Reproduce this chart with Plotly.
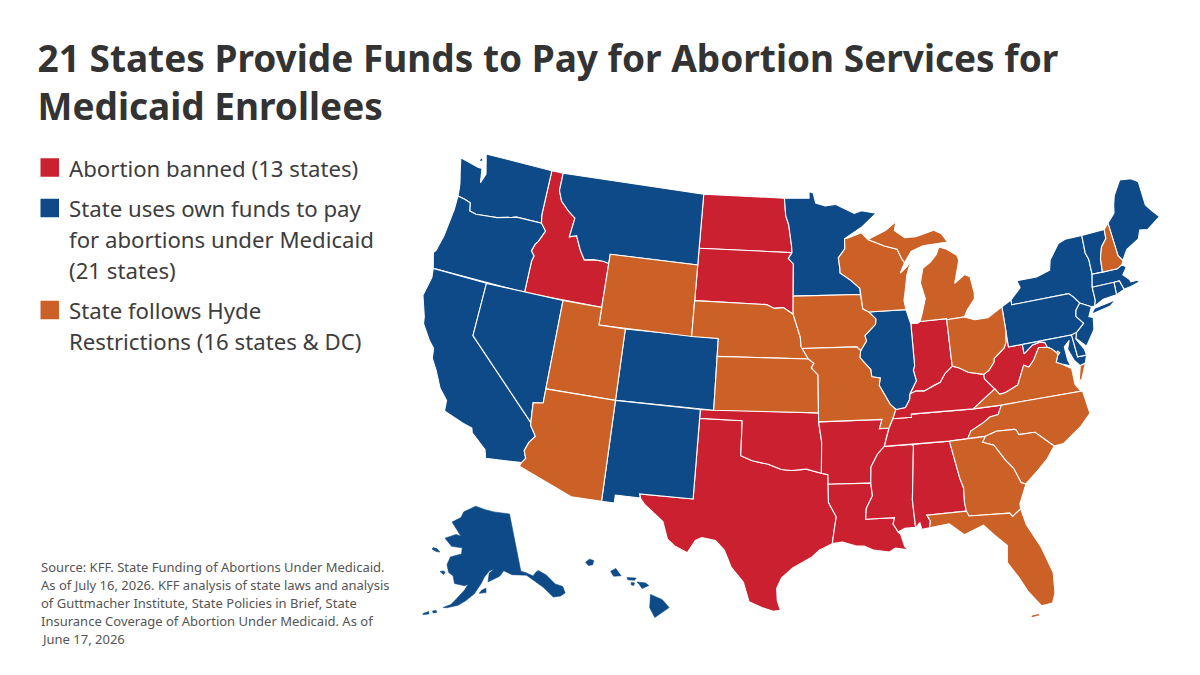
import math
import plotly.graph_objects as go

TITLE = "<b>21 States Provide Funds to Pay for Abortion Services for<br>Medicaid Enrollees</b>"
banned = ["ID","ND","SD","TX","OK","AR","LA","MS","AL","TN","KY","WV","IN"]
own_funds = ["WA","OR","CA","NV","MT","CO","NM","MN","IL","NY","VT","ME","MA","RI","CT","NJ","PA","MD","DE","AK","HI"]
hyde = ["WY","UT","AZ","NE","KS","IA","MO","WI","MI","OH","VA","NC","SC","GA","FL","NH","DC"]
legend_labels = [["Abortion banned (13 states)"],
                 ["State uses own funds to pay", "for abortions under Medicaid", "(21 states)"],
                 ["State follows Hyde", "Restrictions (16 states &amp; DC)"]]
source_note = ["Source: KFF. State Funding of Abortions Under Medicaid.",
               "As of July 16, 2026. KFF analysis of state laws and analysis",
               "of Guttmacher Institute, State Policies in Brief, State",
               "Insurance Coverage of Abortion Under Medicaid. As of",
               "June 17, 2026"]
RED, BLUE, ORANGE = "#cb2030", "#0e4a87", "#cb6127"

# State outlines, (longitude, latitude); a state may have several rings.
outlines = {
"WA": [[(-124.7,48.38),(-123.1,48.15),(-122.75,48.15),(-122.55,47.35),(-122.3,47.9),(-122.75,49),(-117.03,49),(-117.04,46.42),(-116.92,45.99),(-118.98,46),(-119.3,45.93),(-120.5,45.7),(-121.2,45.65),(-122.2,45.57),(-122.75,45.65),(-122.9,46.1),(-123.4,46.2),(-124,46.27),(-124.07,46.7),(-124.15,47),(-124.4,47.6)],
       [(-123.15,48.5),(-122.85,48.55),(-122.95,48.72),(-123.1,48.68)]],
"OR": [[(-124,46.27),(-123.97,45.5),(-124.07,44.6),(-124.15,43.9),(-124.4,43),(-124.55,42.84),(-124.2,42),(-117.03,42),(-117.03,43.8),(-116.93,44.1),(-117.22,44.35),(-117.05,44.75),(-116.85,44.95),(-116.47,45.6),(-116.92,45.99),(-118.98,46),(-119.3,45.93),(-120.5,45.7),(-121.2,45.65),(-122.2,45.57),(-122.75,45.65),(-122.9,46.1),(-123.4,46.2)]],
"CA": [[(-124.2,42),(-124.1,41.5),(-124.35,40.4),(-123.8,39.3),(-123.7,38.9),(-122.95,38.1),(-122.5,37.75),(-122.4,37.2),(-121.9,36.6),(-121.3,35.7),(-120.65,35.15),(-120.6,34.55),(-119.2,34.15),(-118.5,34),(-118.4,33.75),(-117.3,33),(-117.13,32.53),(-114.72,32.72),(-114.5,33),(-114.7,33.4),(-114.5,33.9),(-114.14,34.3),(-114.6,34.85),(-114.63,35),(-120,39),(-120,42)]],
"NV": [[(-120,42),(-114.04,42),(-114.05,37),(-114.05,36.2),(-114.74,36.1),(-114.63,35),(-120,39)]],
"ID": [[(-117.03,49),(-116.05,49),(-116.05,48),(-115.7,47.45),(-114.95,46.95),(-114.35,46.65),(-114.5,45.56),(-113.95,45.7),(-113.45,44.95),(-113,44.45),(-112.3,44.55),(-111.5,44.55),(-111.05,44.48),(-111.05,42),(-117.03,42),(-117.03,43.8),(-116.93,44.1),(-117.22,44.35),(-117.05,44.75),(-116.85,44.95),(-116.47,45.6),(-116.92,45.99),(-117.04,46.42)]],
"MT": [[(-116.05,49),(-104.05,49),(-104.05,45),(-111.05,45),(-111.05,44.48),(-111.5,44.55),(-112.3,44.55),(-113,44.45),(-113.45,44.95),(-113.95,45.7),(-114.5,45.56),(-114.35,46.65),(-114.95,46.95),(-115.7,47.45),(-116.05,48)]],
"WY": [[(-111.05,45),(-104.05,45),(-104.05,41),(-111.05,41)]],
"UT": [[(-114.04,42),(-111.05,42),(-111.05,41),(-109.05,41),(-109.05,37),(-114.05,37)]],
"CO": [[(-109.05,41),(-102.05,41),(-102.05,37),(-109.05,37)]],
"AZ": [[(-114.05,37),(-109.05,37),(-109.05,31.33),(-111.07,31.33),(-114.81,32.49),(-114.72,32.72),(-114.5,33),(-114.7,33.4),(-114.5,33.9),(-114.14,34.3),(-114.6,34.85),(-114.63,35),(-114.74,36.1),(-114.05,36.2)]],
"NM": [[(-109.05,37),(-103,37),(-103.04,32),(-106.62,32),(-106.53,31.78),(-108.2,31.78),(-108.2,31.33),(-109.05,31.33)]],
"ND": [[(-104.05,49),(-97.23,49),(-97.1,48),(-96.85,47.5),(-96.6,46.3),(-96.56,45.93),(-104.05,45.94)]],
"SD": [[(-104.05,45.94),(-96.56,45.93),(-96.85,45.6),(-96.45,45.3),(-96.45,43.5),(-96.45,42.49),(-97.2,42.85),(-97.9,42.8),(-98.5,43),(-104.05,43)]],
"NE": [[(-104.05,43),(-98.5,43),(-97.9,42.8),(-97.2,42.85),(-96.45,42.49),(-96.1,41.7),(-95.9,41.2),(-95.85,40.7),(-95.31,40),(-102.05,40),(-102.05,41),(-104.05,41)]],
"KS": [[(-102.05,40),(-95.31,40),(-94.9,39.75),(-95.1,39.5),(-94.61,39.11),(-94.62,37),(-102.05,37)]],
"OK": [[(-103,37),(-94.62,37),(-94.62,36.5),(-94.43,35.4),(-94.48,33.64),(-95.5,33.88),(-96.5,33.8),(-97.2,33.85),(-98.1,34.13),(-99.2,34.3),(-100,34.56),(-100,36.5),(-103,36.5)]],
"TX": [[(-103,36.5),(-100,36.5),(-100,34.56),(-99.2,34.3),(-98.1,34.13),(-97.2,33.85),(-96.5,33.8),(-95.5,33.88),(-94.48,33.64),(-94.04,33.55),(-94.04,33.02),(-94.04,32),(-93.55,31.2),(-93.7,30.5),(-93.85,29.7),(-94.7,29.35),(-95.2,28.95),(-96.4,28.35),(-97.1,27.8),(-97.4,27.2),(-97.35,26.5),(-97.15,25.96),(-97.6,25.9),(-98.3,26.1),(-99.1,26.4),(-99.5,27.5),(-100.3,28.3),(-100.8,29.25),(-101.4,29.77),(-102.3,29.88),(-102.7,29.7),(-103.15,28.98),(-104,29.3),(-104.5,29.65),(-104.9,30.6),(-106.2,31.45),(-106.53,31.78),(-106.62,32),(-103.04,32)]],
"MN": [[(-97.23,49),(-95.15,49),(-95.15,49.38),(-94.8,49.3),(-94.6,48.72),(-93.8,48.55),(-92.95,48.62),(-92,48.3),(-91.4,48.07),(-90.8,48.2),(-89.6,48),(-90.8,47.3),(-92.1,46.75),(-92.29,46.66),(-92.3,46.1),(-92.85,45.6),(-92.75,45),(-92.75,44.75),(-91.9,44.3),(-91.25,43.85),(-91.22,43.5),(-96.45,43.5),(-96.45,45.3),(-96.85,45.6),(-96.56,45.93),(-96.6,46.3),(-96.85,47.5),(-97.1,48)]],
"IA": [[(-96.45,43.5),(-91.22,43.5),(-91.1,42.7),(-90.65,42.5),(-90.15,42.1),(-90.2,41.8),(-91.05,41.2),(-90.95,40.9),(-91.42,40.38),(-91.7,40.6),(-95.77,40.58),(-95.85,40.7),(-95.9,41.2),(-96.1,41.7),(-96.45,42.49)]],
"MO": [[(-95.77,40.58),(-91.7,40.6),(-91.42,40.38),(-91.5,40),(-90.75,39.3),(-90.7,38.9),(-90.1,38.8),(-90.2,38.4),(-89.5,37.3),(-89.13,37),(-89.4,36.5),(-89.7,36),(-90.37,36),(-90.15,36.5),(-94.62,36.5),(-94.62,37),(-94.61,39.11),(-95.1,39.5),(-94.9,39.75),(-95.31,40)]],
"AR": [[(-94.62,36.5),(-90.15,36.5),(-90.37,36),(-89.7,36),(-89.9,35.55),(-90.1,35),(-90.6,34.6),(-91.1,33.9),(-91.17,33),(-94.04,33.02),(-94.04,33.55),(-94.48,33.64),(-94.43,35.4)]],
"LA": [[(-94.04,33.02),(-91.17,33),(-91.1,32.3),(-91.55,31.6),(-91.62,31),(-89.73,31),(-89.85,30.65),(-89.55,30.18),(-89.4,30.05),(-89.2,29.35),(-89,29.15),(-89.8,29.3),(-90.2,29.1),(-91.2,29.25),(-91.8,29.5),(-92.3,29.53),(-93.2,29.77),(-93.85,29.7),(-93.7,30.5),(-93.55,31.2),(-94.04,32)]],
"MS": [[(-90.1,35),(-88.2,35),(-88.1,34.9),(-88.47,31.9),(-88.4,30.37),(-89.1,30.37),(-89.55,30.18),(-89.85,30.65),(-89.73,31),(-91.62,31),(-91.55,31.6),(-91.1,32.3),(-91.17,33),(-91.1,33.9),(-90.6,34.6)]],
"AL": [[(-88.2,35),(-85.6,34.98),(-85.18,32.87),(-85,32.3),(-85.05,31.5),(-85,31),(-87.6,31),(-87.4,30.65),(-87.5,30.28),(-88,30.23),(-88.1,30.6),(-88.4,30.37),(-88.47,31.9),(-88.1,34.9)]],
"TN": [[(-90.1,35),(-89.9,35.55),(-89.7,36),(-89.4,36.5),(-88.07,36.5),(-88.07,36.68),(-83.68,36.6),(-81.68,36.59),(-82,36.1),(-82.6,36.03),(-83.1,35.77),(-84.05,35.4),(-84.32,34.99),(-85.6,34.98),(-88.2,35)]],
"KY": [[(-89.4,36.5),(-89.13,37),(-88.45,37.07),(-88.1,37.5),(-88.05,37.8),(-87.6,37.95),(-87,37.9),(-86.3,38.15),(-85.8,38.28),(-85.4,38.73),(-84.8,39.1),(-84.3,38.95),(-83.7,38.65),(-82.6,38.42),(-82.6,38.17),(-81.97,37.54),(-83.68,36.6),(-88.07,36.68),(-88.07,36.5)]],
"IL": [[(-90.65,42.5),(-87.8,42.49),(-87.6,41.85),(-87.53,41.7),(-87.53,39.35),(-87.65,39.1),(-87.5,38.5),(-88.05,37.8),(-88.1,37.5),(-88.45,37.07),(-89.13,37),(-89.5,37.3),(-90.2,38.4),(-90.1,38.8),(-90.7,38.9),(-90.75,39.3),(-91.5,40),(-91.42,40.38),(-90.95,40.9),(-91.05,41.2),(-90.2,41.8),(-90.15,42.1)]],
"WI": [[(-92.29,46.66),(-92,46.7),(-90.9,46.95),(-90.4,46.55),(-89.1,46.13),(-88.1,45.9),(-87.8,45.35),(-87.6,45.1),(-88,44.55),(-87.4,44.9),(-87.05,45.25),(-87.5,44.4),(-87.75,43.5),(-87.9,43),(-87.8,42.49),(-90.65,42.5),(-91.1,42.7),(-91.22,43.5),(-91.25,43.85),(-91.9,44.3),(-92.75,44.75),(-92.75,45),(-92.85,45.6),(-92.3,46.1)]],
"MI": [[(-84.75,45.78),(-85,45.4),(-85.55,45),(-86.2,44.7),(-86.5,43.9),(-86.25,43),(-86.6,42.2),(-86.82,41.76),(-84.8,41.76),(-84.8,41.7),(-83.45,41.73),(-83.15,42.1),(-82.5,42.65),(-82.45,43),(-82.6,43.9),(-83,44.07),(-83.85,43.65),(-83.3,44.9),(-83.4,45.2),(-84.2,45.63)],
       [(-90.4,46.55),(-89.1,46.13),(-88.1,45.9),(-87.8,45.35),(-87.6,45.1),(-87,45.7),(-86,45.95),(-84.7,46),(-84,46),(-84.4,46.5),(-85,46.75),(-86.5,46.5),(-87.4,46.5),(-88.2,46.95),(-88,47.45),(-88.9,47)]],
"IN": [[(-87.53,41.7),(-87,41.68),(-86.82,41.76),(-84.8,41.76),(-84.8,39.1),(-85.4,38.73),(-85.8,38.28),(-86.3,38.15),(-87,37.9),(-87.6,37.95),(-88.05,37.8),(-87.5,38.5),(-87.65,39.1),(-87.53,39.35)]],
"OH": [[(-84.8,41.7),(-83.45,41.73),(-82.7,41.5),(-81.7,41.5),(-80.52,41.98),(-80.52,40.64),(-80.65,40),(-80.85,39.7),(-81.7,39.2),(-81.75,39),(-82.2,38.6),(-82.6,38.42),(-83.7,38.65),(-84.3,38.95),(-84.8,39.1)]],
"WV": [[(-80.52,40.64),(-80.52,39.72),(-79.48,39.72),(-79.48,39.2),(-78.75,39.6),(-78.2,39.68),(-77.83,39.6),(-77.72,39.32),(-78.35,39.4),(-78.87,38.76),(-79.3,38.42),(-79.65,38.58),(-80.3,37.55),(-81.25,37.25),(-81.68,37.2),(-81.97,37.54),(-82.6,38.17),(-82.6,38.42),(-82.2,38.6),(-81.75,39),(-81.7,39.2),(-80.85,39.7),(-80.65,40)]],
"VA": [[(-83.68,36.6),(-81.97,37.54),(-81.68,37.2),(-81.25,37.25),(-80.3,37.55),(-79.65,38.58),(-79.3,38.42),(-78.87,38.76),(-78.35,39.4),(-77.72,39.32),(-77.45,39.2),(-77.05,38.85),(-77.3,38.4),(-76.95,38.25),(-76.3,37.9),(-76.3,37),(-75.98,36.55),(-81.68,36.59)],
       [(-75.95,37.15),(-75.65,37.95),(-75.25,38.03),(-75.75,37.2)]],
"NC": [[(-81.68,36.59),(-75.87,36.55),(-75.7,35.25),(-76.5,34.65),(-77.9,33.9),(-78.55,33.86),(-79.67,34.8),(-80.8,34.82),(-80.93,35.1),(-81.05,35.15),(-82.3,35.2),(-83.1,35),(-84.32,34.99),(-84.05,35.4),(-83.1,35.77),(-82.6,36.03),(-82,36.1)]],
"SC": [[(-83.1,35),(-82.3,35.2),(-81.05,35.15),(-80.93,35.1),(-80.8,34.82),(-79.67,34.8),(-78.55,33.86),(-79.2,33.2),(-79.9,32.7),(-80.85,32.05),(-81.15,32.15),(-81.5,33),(-81.95,33.5),(-82.6,34.45),(-83.35,34.7)]],
"GA": [[(-85.6,34.98),(-84.32,34.99),(-83.1,35),(-83.35,34.7),(-82.6,34.45),(-81.95,33.5),(-81.5,33),(-81.15,32.15),(-80.85,32.05),(-81.45,31),(-81.45,30.72),(-82.05,30.36),(-82.2,30.57),(-84.86,30.71),(-85,31),(-85.05,31.5),(-85,32.3),(-85.18,32.87)]],
"FL": [[(-87.5,30.28),(-87.4,30.65),(-87.6,31),(-85,31),(-84.86,30.71),(-82.2,30.57),(-82.05,30.36),(-81.45,30.72),(-81.25,29.8),(-80.55,28.45),(-80.05,26.9),(-80.15,25.75),(-80.4,25.2),(-81.1,25.15),(-81.8,26.1),(-82.2,26.9),(-82.8,27.85),(-82.65,28.8),(-83.4,29.5),(-84,30.1),(-85.3,29.7),(-86.2,30.4)],
       [(-81.85,24.55),(-81.3,24.6),(-81.3,24.75),(-81.8,24.7)]],
"PA": [[(-80.52,41.98),(-79.76,42.27),(-79.76,42),(-75.35,42),(-75.05,41.75),(-74.7,41.36),(-75.1,41),(-75.2,40.68),(-74.75,40.2),(-75.4,39.8),(-75.8,39.72),(-80.52,39.72)]],
"NY": [[(-79.76,42.27),(-78.9,42.85),(-79.05,43.27),(-77.5,43.27),(-76.4,43.5),(-76.2,44.05),(-75.3,44.85),(-74.7,45),(-73.34,45),(-73.4,44),(-73.25,43.6),(-73.27,42.75),(-73.5,42.05),(-73.5,41.3),(-73.65,41),(-73.9,41),(-74.7,41.36),(-75.05,41.75),(-75.35,42),(-79.76,42)],
       [(-74.02,40.6),(-73.7,40.88),(-72.6,41),(-72,41.07),(-72.5,40.8)]],
"NJ": [[(-74.7,41.36),(-73.9,41),(-74.25,40.5),(-73.95,40.4),(-74.1,39.75),(-74.9,38.93),(-75.55,39.5),(-75.4,39.8),(-74.75,40.2),(-75.2,40.68),(-75.1,41)]],
"DE": [[(-75.8,39.72),(-75.4,39.8),(-75.55,39.45),(-75.1,38.8),(-75.05,38.45),(-75.7,38.46)]],
"MD": [[(-79.48,39.72),(-75.8,39.72),(-75.7,38.46),(-75.05,38.45),(-75.25,38.03),(-75.65,37.95),(-76,38.3),(-76.3,39),(-76.05,39.45),(-76.5,39.15),(-76.45,38.4),(-76.32,38.05),(-76.95,38.25),(-77.3,38.4),(-77.05,38.85),(-77.45,39.2),(-77.72,39.32),(-77.83,39.6),(-78.2,39.68),(-78.75,39.6),(-79.48,39.2)]],
"DC": [[(-77.12,38.93),(-77.04,39),(-76.91,38.89),(-77.04,38.79)]],
"CT": [[(-73.5,42.05),(-71.8,42.02),(-71.85,41.32),(-72.9,41.25),(-73.65,41),(-73.5,41.3)]],
"RI": [[(-71.8,42.02),(-71.38,42.02),(-71.2,41.5),(-71.85,41.32)]],
"MA": [[(-73.5,42.05),(-73.27,42.75),(-72.46,42.73),(-71.3,42.7),(-70.85,42.87),(-70.6,42.65),(-71,42.3),(-70.6,41.95),(-70.55,41.8),(-70,41.8),(-70.1,42.05),(-69.95,41.67),(-70.65,41.55),(-71.2,41.5),(-71.38,42.02),(-71.8,42.02)]],
"VT": [[(-73.34,45),(-71.5,45.01),(-71.55,44.5),(-72.05,44.1),(-72.35,43.5),(-72.46,42.73),(-73.27,42.75),(-73.25,43.6),(-73.4,44)]],
"NH": [[(-71.5,45.01),(-71.08,45.3),(-70.98,43.4),(-70.72,43.07),(-70.85,42.87),(-71.3,42.7),(-72.46,42.73),(-72.35,43.5),(-72.05,44.1),(-71.55,44.5)]],
"ME": [[(-71.08,45.3),(-70.4,45.75),(-70.25,46.2),(-70,46.7),(-69.23,47.46),(-68.3,47.35),(-67.8,47.07),(-67.8,45.7),(-67.45,45.3),(-67,44.85),(-68.2,44.35),(-68.8,44.45),(-69.1,44),(-70.2,43.6),(-70.72,43.07),(-70.98,43.4)]],
"AK": [[(-141,69.65),(-141,60.3),(-139.5,59.9),(-137.5,59.1),(-136.5,59.55),(-135.5,59.75),(-133.5,58.7),(-131.8,56.9),(-130,56.1),(-130,55),(-131.5,54.8),(-133.5,55),(-135.5,57),(-137,58),(-139.5,59.5),(-144,60),(-146.5,60.8),(-148,60),(-149.5,59.7),(-151.8,59.2),(-151.3,60.6),(-149.5,61.2),(-151.2,60.95),(-152.9,60),(-153.9,59),(-156,57.3),(-158.5,56.1),(-160.5,55.3),(-163.5,54.7),(-164.5,54.65),(-162.5,55.3),(-161.5,56),(-159,57.8),(-158,58.8),(-159,58.5),(-162.2,58.7),(-163,59.9),(-164.5,60.3),(-165.5,61.5),(-164.8,62.8),(-161,63.5),(-161,64.5),(-165,64.5),(-168,65.6),(-164,66.5),(-162,66.3),(-163.8,67.2),(-166.5,68.35),(-163,69.3),(-162,70.3),(-156.6,71.35),(-152,70.8),(-148,70.35)],
       [(-154.5,57.4),(-152.5,57.5),(-152.5,58.2),(-153.8,57.9)],
       [(-166.9,53.5),(-166,53.7),(-166.3,54),(-167.2,53.8)],
       [(-169.5,52.9),(-168,53.2),(-168.2,53.6),(-169.5,53.1)],
       [(-171.7,63.4),(-170,63.2),(-168.8,63.25),(-170,63.65),(-171.5,63.7)],
       [(-167.3,60.2),(-166,59.85),(-165.7,60.3),(-166.5,60.4)]],
"HI": [[(-155.9,20.25),(-155.2,19.95),(-154.8,19.5),(-155.65,18.95),(-155.95,19.5)],
       [(-156.7,20.95),(-156.2,20.9),(-156,20.75),(-156.4,20.58),(-156.55,20.8)],
       [(-158.28,21.55),(-157.97,21.71),(-157.65,21.3),(-158.1,21.28)],
       [(-159.78,22.05),(-159.55,22.23),(-159.3,22.15),(-159.35,21.92),(-159.6,21.87)],
       [(-157.3,21.2),(-156.75,21.17),(-156.85,21.05),(-157.25,21.08)],
       [(-157.05,20.92),(-156.85,20.9),(-156.9,20.75),(-157.05,20.8)]],
}

def albers(par1, par2, lat0, lon0, scale, tx, ty):
    p1, p2 = math.radians(par1), math.radians(par2)
    n = (math.sin(p1) + math.sin(p2)) / 2
    c = math.cos(p1) ** 2 + 2 * n * math.sin(p1)
    rho0 = math.sqrt(c - 2 * n * math.sin(math.radians(lat0))) / n
    def f(lon, lat):
        rho = math.sqrt(c - 2 * n * math.sin(math.radians(lat))) / n
        th = n * math.radians(lon - lon0)
        return tx + scale * rho * math.sin(th), ty - scale * (rho0 - rho * math.cos(th))
    return f

main_proj = albers(29.5, 45.5, 37.5, -96, 1022, 799, 404)
ak_proj = albers(55, 65, 60, -154, 358, 481, 577)
hi_proj = albers(8, 18, 20.5, -157, 1022, 632, 590)

fig = go.Figure()
groups = [(banned, RED, "Abortion banned"), (own_funds, BLUE, "State uses own funds"), (hyde, ORANGE, "State follows Hyde")]
for members, colour, group in groups:
    for st in members:
        inset = st in ("AK", "HI")
        proj = ak_proj if st == "AK" else hi_proj if st == "HI" else main_proj
        xs, ys = [], []
        for ring in outlines[st]:
            pts = [proj(*p) for p in ring]
            pts.append(pts[0])
            xs += [p[0] for p in pts] + [None]
            ys += [p[1] for p in pts] + [None]
        fig.add_trace(go.Scatter(x=xs, y=ys, mode="lines", fill="toself", fillcolor=colour,
                                 line=dict(color=colour if inset else "white", width=0.6 if inset else 1.1),
                                 name=st, hovertext=group, showlegend=False))

# Legend
TXT = "#3d3d3d"
legend_rows = [(legend_labels[0], RED, 167.5), (legend_labels[1], BLUE, 208), (legend_labels[2], ORANGE, 310)]
for lines, colour, centre in legend_rows:
    fig.add_shape(type="rect", xref="x", yref="y", x0=40.5, x1=59, y0=centre - 9.25, y1=centre + 9.25,
                  fillcolor=colour, line_width=0)
    for i, line in enumerate(lines):
        fig.add_annotation(x=69, y=centre + 0.5 + 31 * i, xref="x", yref="y", text=line, showarrow=False,
                           align="left", xanchor="left", yanchor="middle", xshift=-1, borderpad=0,
                           font=dict(family="Noto Sans", size=22.2, color=TXT))
for i, line in enumerate(source_note):
    fig.add_annotation(x=41, y=566.5 + 18.1 * i, xref="x", yref="y", text=line, showarrow=False, align="left",
                       xanchor="left", yanchor="middle", xshift=-1, borderpad=0,
                       font=dict(family="Noto Sans", size=13, color="#555555"))

fig.update_layout(
    width=1200, height=675, autosize=False, margin=dict(l=0, r=0, t=0, b=0),
    paper_bgcolor="white", plot_bgcolor="white", hovermode="closest",
    xaxis=dict(range=[0, 1200], visible=False, fixedrange=True),
    yaxis=dict(range=[675, 0], visible=False, fixedrange=True),
    title=dict(text=TITLE, x=0.0313, xanchor="left", y=0.893, yanchor="top",
               font=dict(family="Noto Sans", size=37, color="#333333")),
)
fig.write_html("out.html", post_script="document.body.style.margin='0';",
               config={"displayModeBar": False})
